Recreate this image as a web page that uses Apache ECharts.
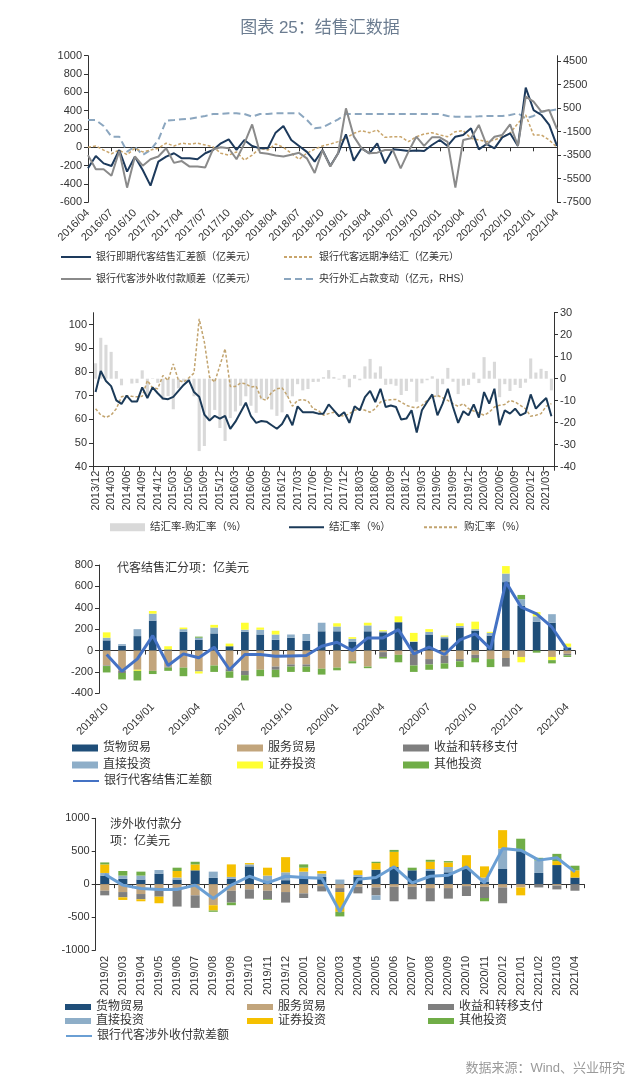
<!DOCTYPE html>
<html><head><meta charset="utf-8">
<script src="https://cdn.jsdelivr.net/npm/echarts@6/dist/echarts.min.js"></script>
<style>html,body{margin:0;padding:0;background:#fff}#c{width:640px;height:1082px}</style>
</head><body><div id="c"></div>
<script>
const FF = "'Liberation Sans', Arial, 'Noto Sans CJK SC', sans-serif";
const AX = '#333';

function monthSeq(y, m, n) {
  const out = [];
  for (let k = 0; k < n; k++) {
    const mm = (m - 1 + k) % 12 + 1;
    const yy = y + Math.floor((m - 1 + k) / 12);
    out.push(yy + '/' + String(mm).padStart(2, '0'));
  }
  return out;
}

// ---------- Panel 1 ----------
const p1Months = monthSeq(2016, 4, 61);
const p1Spot = [-229,-95,-175,-204,-29,-265,-102,-247,-418,-156,
 -102,-65,-120,-120,-131,-65,-29,44,87,-29,
 80,15,-11,-11,160,233,80,15,-50,-156,
 -29,-204,-65,142,-145,-11,-65,44,-175,-22,
 -29,-40,-36,-40,25,80,15,116,135,207,
 -22,36,-11,109,153,15,651,407,353,244,
 15];
const p1Forward = [0,15,-30,-70,-30,-80,-10,-50,-30,-10,
 45,15,45,36,45,25,5,-65,-85,-50,
 -140,-85,-10,-30,36,0,-65,-130,-65,-20,
 15,36,62,98,153,182,160,189,109,116,
 116,62,116,145,160,135,116,171,182,98,
 80,62,80,116,153,262,353,135,135,80,
 0];
const p1Receipts = [-85,-240,-240,-310,-40,-440,-100,-200,-130,-100,
 -10,-170,-150,-210,-210,-220,-20,0,-10,-130,
 40,250,-60,-70,-90,-100,-80,-60,-120,-280,
 -30,-210,-65,425,120,-11,-65,-58,-30,-30,
 -229,-47,116,15,109,109,60,-440,80,98,
 244,25,116,135,251,15,553,498,389,407,
 200];
const p1PBOC = [-509,-509,-1019,-1924,-1924,-3200,-2773,-3480,-3056,-2200,
 -565,-509,-450,-400,-283,-170,0,0,57,57,
 0,-226,0,0,57,57,57,57,-500,-1217,
 -1132,-792,-453,0,0,0,0,0,0,0,
 0,0,0,0,0,0,-170,-226,-226,-226,
 -200,-170,-170,-170,-85,57,-367,-170,198,283,
 397];

// ---------- Panel 2 ----------
const p2Months = monthSeq(2013, 12, 89);
const p2Diff = [7.0,18.6,15.4,12.2,3.5,-3.0,0,-2.2,-2.0,3.8,
 -7.4,0.2,-1.9,-9.7,-7.9,-13.9,-4.4,-1.2,-1.0,-8.0,
 -32.9,-30.6,-18.3,-14.2,-22.4,-28.3,-17.9,-14.9,-12.3,-8.0,
 -12.3,-15.5,-9.4,-9.0,-14.0,-16.9,-15.3,-8.1,-8.0,-2.5,
 -5.3,-4.7,-1.5,-1.4,0.7,3.9,0.8,-0.4,1.7,-3.9,
 1.7,-0.7,5.6,9.0,2.8,5.6,-2.8,-2.5,-3.2,-7.4,
 -5.6,-1.4,-10.5,-2.1,-0.7,1.1,-8.4,-2.5,4.9,-1.4,
 -7.0,-3.2,-2.8,2.8,-2.0,9.8,3.6,7.7,-8.4,-2.5,
 -5.6,-2.8,-4.2,-1.8,9.2,2.8,4.5,3.5,-5.3];
const p2Settle = [71.5,80.4,76.2,74,68,66.5,70,67.5,67.5,73.5,
 69,73.5,71,68.8,68.5,69.5,72,74.5,76.5,71.5,
 69.5,62,59.5,61.5,60.3,61.5,56,59,63,67,
 61.3,58.5,59.3,59,57.5,56,58,62,57.5,65.5,
 63,63,63,62.4,62.4,66.3,63.8,61.3,63,58.5,
 65.5,63.8,69.4,72,67.3,72.9,65.2,65.8,65.2,59.9,
 60.3,63.8,54.4,63.8,67.3,70.5,61.7,66.6,72.9,65.2,
 58.5,63.4,61.7,66.3,60.7,71.5,66.6,72.9,57.5,63.8,
 62.4,64.5,61.7,62.7,70.5,64.5,66.9,69,61.3];
const p2Purchase = [64.5,61.8,60.8,61.8,64.5,69.5,70,69.7,69.5,69.7,
 76.4,73.3,72.9,78.5,76.4,83.4,76.4,75.7,77.5,79.5,
 102.4,92.6,77.8,75.7,82.7,89.8,73.9,73.9,75.3,75,
 73.6,74,68.7,68,71.5,72.9,73.3,70.1,65.5,68,
 68.3,67.7,64.5,63.8,61.7,62.4,63,61.7,61.3,62.4,
 63.8,64.5,63.8,63,64.5,67.3,68,68.3,68.4,67.3,
 65.9,65.2,64.9,65.9,68,69.4,70.1,69.1,68,66.6,
 65.5,66.6,64.5,63.5,62.7,61.7,63,65.2,65.9,66.3,
 68,67.3,65.9,64.5,61.3,61.7,62.4,65.5,66.6];

// ---------- Panel 3 ----------
const p3Months = monthSeq(2018, 10, 31);
const p3Goods = [95,45,135,280,10,175,100,160,40,175,150,100,120,90,180,180,80,180,170,265,80,150,115,215,185,140,640,420,270,260,25];
const p3Services = [-140,-190,-180,-190,-150,-160,-185,-140,-175,-190,-180,-150,-130,-130,-170,-160,-100,-150,-15,-40,-30,-80,-50,-80,-40,-80,-70,-60,0,-60,-30];
const p3Income = [-5,-20,0,0,-10,0,-10,0,-20,-40,0,-30,-20,-20,0,0,0,0,-45,0,-110,-50,-70,-20,-30,0,-80,0,0,0,-15];
const p3FDI = [25,15,65,65,0,25,20,55,0,20,45,50,30,65,80,45,30,55,10,0,5,25,15,15,15,25,80,60,50,80,10];
const p3Securities = [50,0,-10,25,30,15,-20,25,25,65,20,35,0,0,0,30,15,25,10,55,80,25,10,25,70,10,70,-50,40,-30,30];
const p3Other = [-60,-60,-90,-30,-30,-80,10,-60,-60,-50,-60,-70,-50,-50,-55,-25,-20,-15,-15,-70,-60,-50,-50,-55,-40,-75,0,40,-20,-30,-15];
const p3Net = [-37,-193,-78,140,-140,-31,-68,31,-180,-37,-37,-53,-50,-47,40,78,0,118,118,196,-31,31,-37,100,156,16,640,405,343,218,6];

// ---------- Panel 4 ----------
const p4Months = monthSeq(2019, 2, 27);
const p4Goods = [130,80,70,160,70,210,95,80,270,40,60,90,110,0,110,220,260,210,200,180,230,40,230,500,170,290,100];
const p4Services = [-100,-120,-150,-90,-50,-170,-320,-100,-80,-100,-120,-140,-30,-60,-40,-50,-40,-40,-60,-60,-30,-40,-50,-50,0,-20,0];
const p4Income = [-70,-80,-80,-100,-290,-190,0,-180,-140,-130,-160,-70,-80,-60,-100,-120,-220,-190,-200,-160,-150,-170,-240,0,-50,-60,-100];
const p4FDI = [40,50,60,55,30,0,95,30,30,90,120,100,50,70,30,-70,0,0,30,80,0,60,310,0,190,0,0];
const p4Securities = [130,-40,-30,-100,100,90,-80,190,20,120,230,60,40,-300,70,100,230,0,110,70,210,170,280,-120,0,60,110];
const p4Other = [30,70,60,0,50,40,-20,-40,0,-10,0,50,0,-70,0,20,30,40,30,20,0,-50,0,190,40,110,70];
const p4Net = [150,-15,-66,-81,-81,-15,-218,-15,120,20,120,100,90,-420,76,100,263,20,120,137,263,20,540,516,365,400,187];

// ---------- colours ----------
const C = {
  p1Spot:'#1d3a5c', p1Fwd:'#c9a56b', p1Rec:'#8a8a8a', p1PBOC:'#8ba6bf',
  p2Bar:'#d9d9d9', p2Settle:'#1b3a58', p2Purchase:'#c2a46f',
  goods:'#1f4e79', services:'#c2a57c', income:'#7f7f7f', fdi:'#8eaec8',
  sec3:'#ffff33', other:'#70ad47', net3:'#4472c4',
  sec4:'#f5c000', net4:'#6a9fd4'
};

const lbl = {fontSize:11, color:'#333', fontFamily:FF};
function plain(v) { return String(v); }
function yAx(grid, min, max, interval, pos, extraLabel) {
  return {type:'value', gridIndex:grid, min, max, interval, position:pos,
    axisLine:{show:true, lineStyle:{color:AX, width:1}},
    axisTick:{show:true, length:4, lineStyle:{color:AX}},
    axisLabel:Object.assign({}, lbl, {margin:6, formatter:plain}, extraLabel || {}),
    splitLine:{show:false}};
}
function xLine(grid, data, gap, tickInt, onZero) {
  return {type:'category', gridIndex:grid, data, boundaryGap:gap, position:'bottom',
    axisLine:{show:true, onZero:onZero, lineStyle:{color:AX, width:1}},
    axisTick:{show:true, interval:tickInt, length:4, lineStyle:{color:AX}},
    axisLabel:{show:false}, splitLine:{show:false}};
}
function xLab(grid, data, gap, labInt, rotate, margin) {
  return {type:'category', gridIndex:grid, data, boundaryGap:gap, position:'bottom',
    axisLine:{show:false, onZero:false}, axisTick:{show:false},
    axisLabel:Object.assign({}, lbl, {interval:labInt, rotate, margin}), splitLine:{show:false}};
}

function lgLine(name, left, top, w, fs) {
  return {left, top, padding:0, itemGap:0, data:[name], selectedMode:false,
    itemWidth:w, itemHeight:8, itemStyle:{opacity:0},
    textStyle:{fontSize:fs, color:'#333', fontFamily:FF}};
}
function lgRect(name, left, top, w, h, fs, color) {
  const d = color ? {name, itemStyle:{color}} : name;
  return {left, top, padding:0, itemGap:0, data:[d], selectedMode:false, icon:'rect',
    itemWidth:w, itemHeight:h, textStyle:{fontSize:fs, color:'#333', fontFamily:FF}};
}

const option = {
  animation:false,
  backgroundColor:'#fff',
  textStyle:{fontFamily:FF},
  title:[
    {text:'图表 25：结售汇数据', left:'center', top:15, textStyle:{fontSize:17, fontWeight:'normal', color:'#6b7c90', fontFamily:FF}},
    {text:'代客结售汇分项：亿美元', left:112, top:558, textStyle:{fontSize:12, fontWeight:'normal', color:'#333', fontFamily:FF}},
    {text:'涉外收付款分\n项：亿美元', left:105, top:811, textStyle:{fontSize:12, lineHeight:17, fontWeight:'normal', color:'#333', fontFamily:FF}},
    {text:'数据来源：Wind、兴业研究', right:10, top:1057, textStyle:{fontSize:13, fontWeight:'normal', color:'#9a9a9a', fontFamily:FF}}
  ],
  grid:[
    {left:88, right:83, top:55.7, height:146.6, outerBoundsMode:'none'},
    {left:93, right:86, top:312.7, height:154, outerBoundsMode:'none'},
    {left:99, right:65, top:565, height:128.3, outerBoundsMode:'none'},
    {left:95.7, right:56, top:818.3, height:131.7, outerBoundsMode:'none'}
  ],
  xAxis:[
    xLine(0, p1Months, false, 2, true),
    xLab(0, p1Months, false, 2, 45, 9),
    Object.assign(xLine(1, p2Months, true, 2, false), {axisLabel:Object.assign({}, lbl, {interval:2, rotate:90, margin:4})}),
    xLine(2, p3Months, true, 2, true),
    xLab(2, p3Months, true, 2, 45, 12),
    xLine(3, p4Months, true, 0, true),
    xLab(3, p4Months, true, 0, 90, 6)
  ],
  yAxis:[
    yAx(0, -600, 1000, 200, 'left'),
    yAx(0, -7500, 4950, 2000, 'right', {showMaxLabel:false}),
    yAx(1, 40, 105, 10, 'left', {showMaxLabel:false}),
    yAx(1, -40, 30, 10, 'right'),
    yAx(2, -400, 800, 200, 'left'),
    yAx(3, -1000, 1000, 500, 'left')
  ],
  legend:[
    lgLine('银行即期代客结售汇差额（亿美元）', 60, 252, 30, 10),
    lgLine('银行代客远期净结汇（亿美元）', 283, 252, 30, 10),
    lgLine('银行代客涉外收付款顺差（亿美元）', 60, 274, 30, 10),
    lgLine('央行外汇占款变动（亿元，RHS）', 283, 274, 30, 10),

    lgRect('结汇率-购汇率（%）', 110, 522, 35, 8, 10.5),
    lgLine('结汇率（%）', 288, 522, 35, 10.5),
    lgLine('购汇率（%）', 423, 522, 35, 10.5),

    lgRect('货物贸易', 72, 742, 26, 7, 12, C.goods),
    lgRect('服务贸易', 237, 742, 26, 7, 12, C.services),
    lgRect('收益和转移支付', 403, 742, 26, 7, 12, C.income),
    lgRect('直接投资', 72, 759, 26, 7, 12, C.fdi),
    lgRect('证券投资', 237, 759, 26, 7, 12, C.sec3),
    lgRect('其他投资', 403, 759, 26, 7, 12, C.other),
    lgLine('银行代客结售汇差额', 72, 775, 26, 12),

    lgRect('货物贸易', 65, 1001, 26, 6, 12, C.goods),
    lgRect('服务贸易', 247, 1001, 26, 6, 12, C.services),
    lgRect('收益和转移支付', 428, 1001, 26, 6, 12, C.income),
    lgRect('直接投资', 65, 1015, 26, 6, 12, C.fdi),
    lgRect('证券投资', 247, 1015, 26, 6, 12, C.sec4),
    lgRect('其他投资', 428, 1015, 26, 6, 12, C.other),
    lgLine('银行代客涉外收付款差额', 65, 1030, 26, 12)
  ],
  series:[
    // panel 1
    {name:'央行外汇占款变动（亿元，RHS）', type:'line', xAxisIndex:0, yAxisIndex:1, data:p1PBOC, symbol:'none',
      lineStyle:{color:C.p1PBOC, width:2, type:[7,4]}, itemStyle:{color:C.p1PBOC}, z:2},
    {name:'银行代客远期净结汇（亿美元）', type:'line', xAxisIndex:0, yAxisIndex:0, data:p1Forward, symbol:'none',
      lineStyle:{color:C.p1Fwd, width:1.5, type:[3,2]}, itemStyle:{color:C.p1Fwd}, z:3},
    {name:'银行即期代客结售汇差额（亿美元）', type:'line', xAxisIndex:0, yAxisIndex:0, data:p1Spot, symbol:'none',
      lineStyle:{color:C.p1Spot, width:2}, itemStyle:{color:C.p1Spot}, z:4},
    {name:'银行代客涉外收付款顺差（亿美元）', type:'line', xAxisIndex:0, yAxisIndex:0, data:p1Receipts, symbol:'none',
      lineStyle:{color:C.p1Rec, width:2}, itemStyle:{color:C.p1Rec}, z:5},
    // panel 2
    {name:'结汇率-购汇率（%）', type:'bar', xAxisIndex:2, yAxisIndex:3, data:p2Diff, barWidth:'60%',
      itemStyle:{color:C.p2Bar}, z:1},
    {name:'购汇率（%）', type:'line', xAxisIndex:2, yAxisIndex:2, data:p2Purchase, symbol:'none',
      lineStyle:{color:C.p2Purchase, width:1.5, type:[3,2]}, itemStyle:{color:C.p2Purchase}, z:3},
    {name:'结汇率（%）', type:'line', xAxisIndex:2, yAxisIndex:2, data:p2Settle, symbol:'none',
      lineStyle:{color:C.p2Settle, width:2}, itemStyle:{color:C.p2Settle}, z:4},
    // panel 3
    {name:'货物贸易', type:'bar', stack:'p3', xAxisIndex:3, yAxisIndex:4, data:p3Goods, barWidth:'50%', itemStyle:{color:C.goods}},
    {name:'服务贸易', type:'bar', stack:'p3', xAxisIndex:3, yAxisIndex:4, data:p3Services, itemStyle:{color:C.services}},
    {name:'收益和转移支付', type:'bar', stack:'p3', xAxisIndex:3, yAxisIndex:4, data:p3Income, itemStyle:{color:C.income}},
    {name:'直接投资', type:'bar', stack:'p3', xAxisIndex:3, yAxisIndex:4, data:p3FDI, itemStyle:{color:C.fdi}},
    {name:'证券投资', type:'bar', stack:'p3', xAxisIndex:3, yAxisIndex:4, data:p3Securities, itemStyle:{color:C.sec3}},
    {name:'其他投资', type:'bar', stack:'p3', xAxisIndex:3, yAxisIndex:4, data:p3Other, itemStyle:{color:C.other}},
    {name:'银行代客结售汇差额', type:'line', xAxisIndex:3, yAxisIndex:4, data:p3Net, symbol:'none',
      lineStyle:{color:C.net3, width:3}, itemStyle:{color:C.net3}, z:5},
    // panel 4
    {name:'货物贸易', type:'bar', stack:'p4', xAxisIndex:5, yAxisIndex:5, data:p4Goods, barWidth:'50%', itemStyle:{color:C.goods}},
    {name:'服务贸易', type:'bar', stack:'p4', xAxisIndex:5, yAxisIndex:5, data:p4Services, itemStyle:{color:C.services}},
    {name:'收益和转移支付', type:'bar', stack:'p4', xAxisIndex:5, yAxisIndex:5, data:p4Income, itemStyle:{color:C.income}},
    {name:'直接投资', type:'bar', stack:'p4', xAxisIndex:5, yAxisIndex:5, data:p4FDI, itemStyle:{color:C.fdi}},
    {name:'证券投资', type:'bar', stack:'p4', xAxisIndex:5, yAxisIndex:5, data:p4Securities, itemStyle:{color:C.sec4}},
    {name:'其他投资', type:'bar', stack:'p4', xAxisIndex:5, yAxisIndex:5, data:p4Other, itemStyle:{color:C.other}},
    {name:'银行代客涉外收付款差额', type:'line', xAxisIndex:5, yAxisIndex:5, data:p4Net, symbol:'none',
      lineStyle:{color:C.net4, width:3}, itemStyle:{color:C.net4}, z:5}
  ]
};

const chart = echarts.init(document.getElementById('c'), null, {renderer:'canvas'});
chart.setOption(option);
</script></body></html>
